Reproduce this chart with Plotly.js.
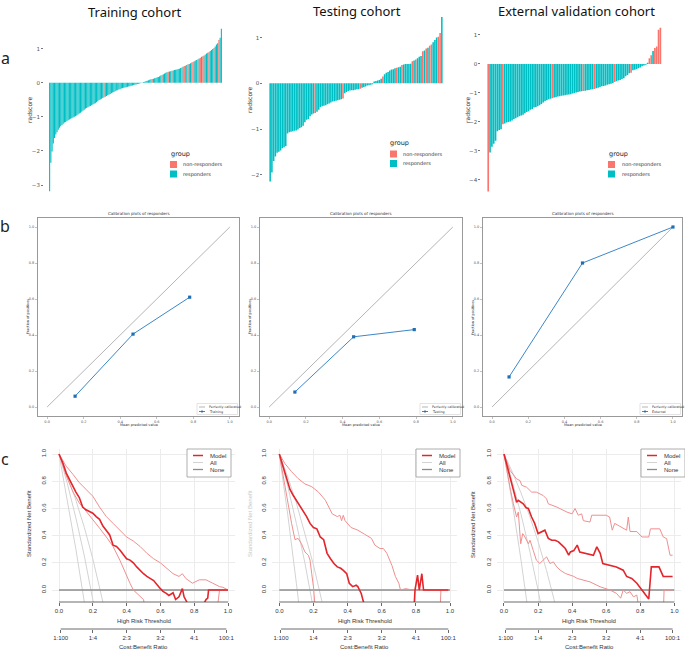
<!DOCTYPE html>
<html><head><meta charset="utf-8">
<script src="https://cdn.plot.ly/plotly-3.0.1.min.js"></script>
<style>html,body{margin:0;padding:0;background:#fff}#chart{width:685px;height:650px}</style>
</head><body><div id="chart"></div>
<script>
// ---------------- DATA ----------------
const cohortTitles = ['Training cohort', 'Testing cohort', 'External validation cohort'];
const cohortShort = ['Training', 'Testing', 'External'];
const groupLabels = ['non-responders', 'responders'];

const trainRadscore = [-3.18,-2.35,-2.02,-1.78,-1.62,-1.52,-1.45,-1.38,-1.32,-1.28,
 -1.24,-1.2,-1.17,-1.15,-1.12,-1.1,-1.08,-1.06,-1.04,-1.02,
 -1.0,-0.98,-0.96,-0.93,-0.9,-0.88,-0.85,-0.82,-0.79,-0.76,
 -0.74,-0.72,-0.7,-0.68,-0.66,-0.64,-0.62,-0.6,-0.57,-0.54,
 -0.51,-0.49,-0.47,-0.45,-0.43,-0.41,-0.39,-0.37,-0.35,-0.33,
 -0.31,-0.29,-0.27,-0.25,-0.23,-0.22,-0.2,-0.19,-0.17,-0.16,
 -0.15,-0.14,-0.13,-0.12,-0.11,-0.1,-0.09,-0.08,-0.07,-0.06,
 -0.05,-0.04,-0.03,-0.02,-0.01,0.01,0.02,0.03,0.05,0.06,
 0.07,0.09,0.1,0.11,0.12,0.13,0.14,0.16,0.17,0.19,
 0.21,0.23,0.25,0.27,0.29,0.31,0.32,0.33,0.34,0.35,
 0.36,0.37,0.38,0.39,0.4,0.41,0.43,0.45,0.47,0.49,
 0.5,0.52,0.54,0.55,0.57,0.59,0.61,0.63,0.65,0.67,
 0.69,0.71,0.73,0.76,0.78,0.8,0.83,0.86,0.88,0.9,
 0.93,0.96,0.99,1.02,1.06,1.12,1.16,1.25,1.32,1.58];
const trainNonResp = [44,55,83,91,96,99,107,109,110,112,115,116,118,120,122,124,126,129,133,137];

const testRadscore = [-2.15,-1.95,-1.7,-1.6,-1.52,-1.5,-1.47,-1.42,-1.4,-1.37,
 -1.1,-1.07,-1.06,-1.05,-1.04,-1.03,-1.01,-0.98,-0.96,-0.93,
 -0.85,-0.8,-0.78,-0.72,-0.68,-0.66,-0.65,-0.62,-0.58,-0.52,
 -0.5,-0.49,-0.48,-0.46,-0.44,-0.42,-0.4,-0.39,-0.38,-0.37,
 -0.36,-0.35,-0.33,-0.22,-0.19,-0.17,-0.16,-0.15,-0.15,-0.14,
 -0.13,-0.13,-0.12,-0.1,-0.08,-0.07,-0.05,-0.04,-0.03,-0.02,
 0.04,0.05,0.06,0.07,0.1,0.15,0.2,0.23,0.25,0.28,
 0.3,0.31,0.33,0.34,0.35,0.36,0.4,0.41,0.42,0.42,
 0.42,0.43,0.48,0.5,0.52,0.55,0.58,0.6,0.7,0.72,
 0.76,0.78,0.82,0.85,0.9,0.95,1.0,1.02,1.1,1.45];
const testNonResp = [26,42,52,65,73,76,82,84,88,90,92,93,97,98];

const extRadscore = [-4.4,-3.05,-2.85,-2.75,-2.65,-2.32,-2.28,-2.25,-2.08,-2.05,
 -2.02,-2.0,-1.98,-1.95,-1.9,-1.87,-1.84,-1.8,-1.78,-1.75,
 -1.7,-1.66,-1.63,-1.58,-1.55,-1.5,-1.48,-1.46,-1.42,-1.38,
 -1.33,-1.28,-1.25,-1.22,-1.2,-1.18,-1.16,-1.14,-1.12,-1.11,
 -1.1,-1.09,-1.08,-1.06,-1.05,-1.04,-1.02,-1.0,-0.98,-0.97,
 -0.95,-0.94,-0.93,-0.92,-0.91,-0.9,-0.88,-0.87,-0.86,-0.84,
 -0.82,-0.79,-0.77,-0.76,-0.74,-0.72,-0.7,-0.68,-0.66,-0.62,
 -0.6,-0.57,-0.55,-0.52,-0.49,-0.42,-0.38,-0.32,-0.3,-0.22,
 -0.2,-0.17,-0.15,-0.12,-0.08,-0.05,-0.03,0.04,0.2,0.3,
 0.45,0.55,0.6,1.18,1.25];
const extNonResp = [0,8,35,52,58,69,78,88,89,91,92,93,94];

// calibration
const calibTrainX = [0.153, 0.47, 0.78];
const calibTrainY = [0.06, 0.405, 0.61];
const calibTestX = [0.14, 0.46, 0.79];
const calibTestY = [0.083, 0.39, 0.43];
const calibExtX = [0.094, 0.50, 1.0];
const calibExtY = [0.167, 0.80, 1.0];
const diagX = [0, 1];
const diagY = [0, 1];
const calibTicks = [0, 0.2, 0.4, 0.6, 0.8, 1.0];

// decision curves
const dcaTrainModelX = [0,0.024,0.043,0.063,0.083,0.10,0.12,0.14,0.16,0.18,0.20,0.22,0.24,0.26,0.28,0.30,0.32,0.34,0.36,0.38,0.40,0.42,0.44,0.46,0.475,0.50,0.52,0.56,0.60,0.615,0.635,0.65,0.675,0.69,0.71,0.73,0.74,0.77,0.85,0.87,0.88,0.885,1.0];
const dcaTrainModelY = [1,0.93,0.86,0.81,0.77,0.72,0.68,0.61,0.59,0.58,0.565,0.54,0.52,0.47,0.44,0.405,0.33,0.32,0.295,0.26,0.23,0.22,0.2,0.17,0.15,0.12,0.1,0.07,0.01,-0.01,-0.025,-0.04,-0.02,-0.07,-0.05,0.01,-0.05,-0.12,-0.12,-0.07,-0.06,0,0];
const dcaTrainUpX = [0,0.043,0.083,0.12,0.16,0.2,0.24,0.28,0.32,0.36,0.4,0.44,0.48,0.52,0.56,0.6,0.635,0.675,0.71,0.73,0.75,0.79,0.83,0.87,0.91,0.95,0.97,1.0];
const dcaTrainUpY = [1,0.91,0.85,0.79,0.74,0.69,0.61,0.54,0.49,0.44,0.39,0.36,0.32,0.27,0.23,0.2,0.16,0.12,0.1,0.12,0.085,0.05,0.075,0.075,0.05,0.025,0.02,0];
const dcaTrainLoX = [0,0.024,0.043,0.083,0.12,0.16,0.2,0.24,0.28,0.32,0.36,0.4,0.42,0.44,0.46,0.475,0.5,0.52,0.93,0.95,1.0];
const dcaTrainLoY = [1,0.91,0.84,0.72,0.64,0.58,0.52,0.455,0.39,0.32,0.22,0.1,0.05,0,-0.025,-0.04,-0.07,-0.2,-0.2,0,0];
const dcaTrainAllX = [[0,0.05,0.1,0.15],[0,0.05,0.1,0.15,0.2,0.21],[0,0.05,0.1,0.15,0.2,0.25,0.26]];
const dcaTrainAllY = [[1,0.66,0.3,-0.09],[1,0.78,0.53,0.25,-0.07,-0.13],[1,0.84,0.66,0.46,0.23,-0.03,-0.09]];

const dcaTestModelX = [0,0.023,0.043,0.0625,0.082,0.1,0.12,0.14,0.16,0.18,0.2,0.22,0.24,0.26,0.28,0.3,0.32,0.34,0.36,0.375,0.395,0.41,0.43,0.45,0.46,0.48,0.5,0.79,0.795,0.81,0.82,0.835,0.845,0.99];
const dcaTestModelY = [1,0.9,0.83,0.74,0.695,0.66,0.62,0.585,0.54,0.49,0.46,0.45,0.39,0.37,0.27,0.23,0.195,0.17,0.16,0.145,0.12,0.05,0.025,0.035,0.025,-0.025,-0.12,-0.12,0,0.11,0,0.12,0,0];
const dcaTestUpX = [0,0.033,0.072,0.11,0.15,0.19,0.23,0.27,0.31,0.34,0.355,0.365,0.375,0.385,0.42,0.46,0.5,0.54,0.56,0.59,0.61,0.63,0.66,0.68,0.7,0.71,0.74,0.78,0.99];
const dcaTestUpY = [1,0.93,0.87,0.82,0.78,0.76,0.72,0.66,0.56,0.54,0.55,0.51,0.55,0.51,0.46,0.44,0.41,0.38,0.33,0.305,0.305,0.27,0.18,0.1,0.05,0,0.01,0,0];
const dcaTestLoX = [0,0.014,0.033,0.053,0.072,0.092,0.11,0.13,0.15,0.17,0.18,0.19,0.2,0.215,0.94,0.947,0.99];
const dcaTestLoY = [1,0.9,0.76,0.61,0.49,0.37,0.38,0.34,0.28,0.256,0.22,0.12,0.024,-0.2,-0.2,0,0];
const dcaTestAllX = [[0,0.05,0.1,0.12],[0,0.05,0.1,0.15,0.2],[0,0.05,0.1,0.15,0.2,0.25]];
const dcaTestAllY = [[1,0.55,0.05,-0.16],[1,0.76,0.49,0.2,-0.14],[1,0.83,0.64,0.42,0.185,-0.085]];

const dcaExtModelX = [0,0.025,0.045,0.065,0.074,0.084,0.098,0.113,0.13,0.143,0.162,0.18,0.2,0.22,0.24,0.26,0.28,0.3,0.32,0.34,0.36,0.38,0.39,0.41,0.43,0.445,0.485,0.525,0.545,0.565,0.58,0.62,0.66,0.7,0.72,0.75,0.78,0.81,0.83,0.85,0.865,0.91,0.935,0.99];
const dcaExtModelY = [1,0.88,0.78,0.695,0.646,0.66,0.646,0.634,0.605,0.6,0.537,0.49,0.415,0.43,0.44,0.38,0.366,0.366,0.354,0.33,0.305,0.256,0.28,0.29,0.33,0.28,0.27,0.256,0.317,0.27,0.195,0.183,0.17,0.146,0.1,0.085,0.05,0,-0.037,-0.066,0.17,0.17,0.1,0.1];
const dcaExtUpX = [0,0.035,0.074,0.094,0.104,0.133,0.162,0.19,0.23,0.25,0.26,0.31,0.37,0.4,0.417,0.436,0.456,0.466,0.505,0.515,0.6,0.62,0.636,0.65,0.72,0.73,0.74,0.78,0.81,0.85,0.86,0.915,0.935,0.955,0.975,0.99];
const dcaExtUpY = [1,0.88,0.817,0.805,0.77,0.756,0.72,0.72,0.695,0.67,0.634,0.61,0.573,0.56,0.6,0.55,0.56,0.51,0.5,0.55,0.55,0.537,0.44,0.49,0.44,0.537,0.43,0.43,0.39,0.39,0.45,0.45,0.39,0.378,0.256,0.256];
const dcaExtLoX = [0,0.016,0.035,0.055,0.074,0.084,0.098,0.11,0.123,0.143,0.153,0.172,0.19,0.21,0.23,0.25,0.27,0.29,0.31,0.33,0.36,0.41,0.43,0.466,0.505,0.564,0.622,0.66,0.685,0.7,0.72,0.74,0.76,0.78,0.8,0.935,0.94,0.99];
const dcaExtLoY = [1,0.88,0.756,0.634,0.537,0.573,0.34,0.415,0.39,0.34,0.366,0.29,0.22,0.195,0.22,0.244,0.195,0.207,0.17,0.146,0.122,0.1,0.085,0.073,0.06,0.024,0,-0.024,-0.06,0,-0.024,-0.012,-0.05,-0.037,-0.2,-0.2,0,0];
const dcaExtAllX = [[0,0.05,0.1,0.13,0.14],[0,0.05,0.1,0.15,0.2,0.22],[0,0.05,0.1,0.15,0.2,0.25,0.3]];
const dcaExtAllY = [[1,0.63,0.22,-0.046,-0.14],[1,0.79,0.556,0.294,0,-0.128],[1,0.865,0.714,0.546,0.357,0.143,-0.1]];

const noneX = [0, 1];
const noneY = [0, 0];
const thresholdTicks = [0, 0.2, 0.4, 0.6, 0.8, 1.0];
const costTickVals = [0.0099, 0.2, 0.4, 0.6, 0.8, 0.9901];
const costTickText = ['1:100', '1:4', '2:3', '3:2', '4:1', '100:1'];
const dcaLegend = ['Model', 'All', 'None'];

// ---------------- LAYOUT HELPERS ----------------
const W = 685, H = 650;
const px = x => x / W, py = y => 1 - y / H;
const traces = [], shapes = [], annotations = [];
const layout = {width: W, height: H, margin: {l:0, r:0, t:0, b:0}, autosize: false,
  paper_bgcolor: '#fff', plot_bgcolor: 'rgba(0,0,0,0)', showlegend: false, bargap: 0.1,
  font: {family: 'DejaVu Sans', color: '#222'}};

function txt(t, x, y, size, o) {
  o = o || {};
  annotations.push({text: t, x: px(x), y: py(y), xref: 'paper', yref: 'paper', showarrow: false,
    font: {size: size, color: o.color || '#222', family: o.family || 'DejaVu Sans'},
    xanchor: o.xanchor || 'center', yanchor: o.yanchor || 'middle', textangle: o.angle || 0});
}
function rectP(x0, y0, x1, y1, fill, lineColor, lw) {
  shapes.push({type: 'rect', xref: 'paper', yref: 'paper', x0: px(x0), x1: px(x1), y0: py(y1), y1: py(y0),
    fillcolor: fill, line: {color: lineColor || fill, width: lw === undefined ? 0 : lw}});
}
function lineP(x0, y0, x1, y1, color, width, dash) {
  shapes.push({type: 'line', xref: 'paper', yref: 'paper', x0: px(x0), x1: px(x1), y0: py(y0), y1: py(y1),
    line: {color: color, width: width, dash: dash || 'solid'}});
}

// panel letters
txt('a', 5, 58, 16, {family: 'Noto Sans'});
txt('b', 5, 226, 16, {family: 'Noto Sans'});
txt('c', 5, 459, 16, {family: 'Noto Sans'});

// ---------------- ROW A: waterfall ----------------
const RED = '#F8766D', TEAL = '#00BFC4';
const rowA = [
  {vals: trainRadscore, non: trainNonResp, l: 49, r: 222, pad: 5, top: 20, bot: 200, range: [-3.44, 1.84],
   title: [135, 1], ylab: [29, 110], leg: {gx: 169, gy: 154, kx: 170, ky1: 161, ky2: 170.5, tx: 181}},
  {vals: testRadscore, non: testNonResp, l: 269.3, r: 442.7, pad: 6, top: 8.8, bot: 189.8, range: [-2.33, 1.63],
   title: [357, 0.5], ylab: [249, 100], leg: {gx: 388, gy: 143, kx: 390, ky1: 150.5, ky2: 160, tx: 401}},
  {vals: extRadscore, non: extNonResp, l: 487.3, r: 661.3, pad: 6, top: 19.6, bot: 199.7, range: [-4.68, 1.53],
   title: [576, 0], ylab: [467, 110], leg: {gx: 607, gy: 154, kx: 608, ky1: 161, ky2: 170.5, tx: 620}}
];
rowA.forEach((c, k) => {
  const n = c.vals.length;
  const ppb = (c.r - c.l) / n, padBars = c.pad / ppb;
  const ax = k + 1, xs = ax === 1 ? '' : ax;
  traces.push({type: 'bar', x: c.vals.map((_, i) => i), y: c.vals, xaxis: 'x' + xs, yaxis: 'y' + xs,
    marker: {color: c.vals.map((_, i) => c.non.includes(i) ? RED : TEAL), line: {width: 0}},
    hoverinfo: 'skip'});
  layout['xaxis' + xs] = {domain: [px(c.l - c.pad), px(c.r + c.pad)], range: [-0.5 - padBars, n - 0.5 + padBars],
    anchor: 'y' + xs, showticklabels: false, ticks: '', showgrid: false, zeroline: false, showline: false, fixedrange: true};
  layout['yaxis' + xs] = {domain: [py(c.bot), py(c.top)], range: c.range, anchor: 'x' + xs, dtick: 1,
    ticks: 'outside', ticklen: 2, tickcolor: '#555', tickwidth: 0.8,
    tickfont: {size: 5.5, color: '#555', family: 'DejaVu Sans'}, showgrid: false, zeroline: false, showline: false};
  txt(cohortTitles[k], c.title[0], c.title[1], 13, {family: 'Noto Sans', color: '#111', yanchor: 'top'});
  txt('radscore', c.ylab[0], c.ylab[1], 6, {angle: -90, color: '#333'});
  const L = c.leg;
  txt('group', L.gx, L.gy, 6.5, {xanchor: 'left', color: '#222'});
  rectP(L.kx, L.ky1, L.kx + 7, L.ky1 + 7, RED);
  rectP(L.kx, L.ky2, L.kx + 7, L.ky2 + 7, TEAL);
  txt(groupLabels[0], L.tx, L.ky1 + 3.7, 5, {xanchor: 'left', color: '#333'});
  txt(groupLabels[1], L.tx, L.ky2 + 3.7, 5, {xanchor: 'left', color: '#333'});
});

// ---------------- ROW B: calibration ----------------
const BLUE = '#3d87c8';
const rowB = [
  {x: calibTrainX, y: calibTrainY, l: 38, r: 239},
  {x: calibTestX, y: calibTestY, l: 260, r: 462},
  {x: calibExtX, y: calibExtY, l: 483, r: 682}
];
const bTop = 218, bBot = 416;
rowB.forEach((c, k) => {
  const ax = k + 4;
  traces.push({type: 'scatter', mode: 'lines', x: diagX, y: diagY, xaxis: 'x' + ax, yaxis: 'y' + ax,
    line: {color: '#b5b5b5', width: 1}, hoverinfo: 'skip'});
  traces.push({type: 'scatter', mode: 'lines+markers', x: c.x, y: c.y, xaxis: 'x' + ax, yaxis: 'y' + ax,
    line: {color: BLUE, width: 1}, marker: {symbol: 'square', size: 3.2, color: '#1f6fb4'}, hoverinfo: 'skip'});
  const common = {range: [-0.05, 1.05], tickvals: calibTicks, tickformat: '.1f', ticks: 'outside', ticklen: 2,
    tickcolor: '#999', tickwidth: 0.6, tickfont: {size: 3.5, color: '#555', family: 'DejaVu Sans'},
    showline: true, mirror: true, linecolor: '#999', linewidth: 1, showgrid: false, zeroline: false};
  layout['xaxis' + ax] = Object.assign({domain: [px(c.l), px(c.r)], anchor: 'y' + ax}, common);
  layout['yaxis' + ax] = Object.assign({domain: [py(bBot), py(bTop)], anchor: 'x' + ax}, common);
  const cx = (c.l + c.r) / 2;
  txt('Calibration plots of responders', cx, 213.5, 4, {color: '#333'});
  txt('Mean predicted value', cx, 424.5, 3.5, {color: '#333'});
  txt('Fraction of positives', c.l - 10, (bTop + bBot) / 2, 3.5, {angle: -90, color: '#333'});
  // legend
  const lx = c.r - 42;
  rectP(lx, 403.5, c.r - 1.5, 414.5, '#fff', '#d0d0d0', 0.6);
  lineP(lx + 2, 407, lx + 8, 407, '#b5b5b5', 1);
  txt('Perfectly calibrated', lx + 10, 407, 3.3, {xanchor: 'left', color: '#333'});
  lineP(lx + 2, 411.5, lx + 8, 411.5, BLUE, 1);
  rectP(lx + 4.2, 410.4, lx + 5.8, 412.6, '#1f6fb4');
  txt(cohortShort[k], lx + 10, 411.5, 3.3, {xanchor: 'left', color: '#333'});
});

// ---------------- ROW C: decision curves ----------------
const MODEL = '#e3262b', MODEL_CI = '#f08f8f', ALL = '#d3d3d3', NONE = '#8c8c8c';
const rowC = [
  {m: [dcaTrainModelX, dcaTrainModelY], up: [dcaTrainUpX, dcaTrainUpY], lo: [dcaTrainLoX, dcaTrainLoY],
   allX: dcaTrainAllX, allY: dcaTrainAllY, x0: 59, x1: 228, legL: 187, ytx: 29},
  {m: [dcaTestModelX, dcaTestModelY], up: [dcaTestUpX, dcaTestUpY], lo: [dcaTestLoX, dcaTestLoY],
   allX: dcaTestAllX, allY: dcaTestAllY, x0: 279.3, x1: 450, legL: 416, ytx: 250},
  {m: [dcaExtModelX, dcaExtModelY], up: [dcaExtUpX, dcaExtUpY], lo: [dcaExtLoX, dcaExtLoY],
   allX: dcaExtAllX, allY: dcaExtAllY, x0: 504, x1: 674.3, legL: 641, ytx: 473}
];
const cTop = 449, cBot = 602;
const DCAF = 'Liberation Sans';
rowC.forEach((c, k) => {
  const ax = k + 7, ax2 = k + 10;
  const xa = 'x' + ax, ya = 'y' + ax;
  const span = c.x1 - c.x0;
  const dom = [px(c.x0 - 0.04 * span), px(c.x1 + 0.04 * span)];
  c.allX.forEach((xx, j) => traces.push({type: 'scatter', mode: 'lines', x: xx, y: c.allY[j], xaxis: xa, yaxis: ya,
    line: {color: ALL, width: 1}, hoverinfo: 'skip'}));
  traces.push({type: 'scatter', mode: 'lines', x: noneX, y: noneY, xaxis: xa, yaxis: ya,
    line: {color: NONE, width: 1.5}, hoverinfo: 'skip'});
  traces.push({type: 'scatter', mode: 'lines', x: c.up[0], y: c.up[1], xaxis: xa, yaxis: ya,
    line: {color: MODEL_CI, width: 1}, hoverinfo: 'skip'});
  traces.push({type: 'scatter', mode: 'lines', x: c.lo[0], y: c.lo[1], xaxis: xa, yaxis: ya,
    line: {color: MODEL_CI, width: 1}, hoverinfo: 'skip'});
  traces.push({type: 'scatter', mode: 'lines', x: c.m[0], y: c.m[1], xaxis: xa, yaxis: ya,
    line: {color: MODEL, width: 1.6}, hoverinfo: 'skip'});
  // dummy to create secondary cost:benefit axis
  traces.push({type: 'scatter', mode: 'markers', x: [0.5], y: [null], xaxis: 'x' + ax2, yaxis: ya,
    marker: {opacity: 0}, hoverinfo: 'skip'});
  layout['xaxis' + ax] = {domain: dom, range: [-0.04, 1.04], anchor: ya, tickvals: thresholdTicks, tickformat: '.1f',
    ticks: 'outside', ticklen: 3, tickcolor: '#444', tickwidth: 0.8,
    tickfont: {size: 6, color: '#333', family: DCAF}, showgrid: true, gridcolor: '#ececec', gridwidth: 1,
    zeroline: false, showline: false};
  layout['yaxis' + ax] = {domain: [py(cBot), py(cTop)], range: [-0.088, 1.037], anchor: xa, tickvals: thresholdTicks,
    tickformat: '.1f', tickangle: -90, ticks: '', ticklabelstandoff: 4,
    tickfont: {size: 6, color: '#333', family: DCAF}, showgrid: true, gridcolor: '#ececec', gridwidth: 1,
    zeroline: false, showline: false};
  layout['xaxis' + ax2] = {domain: dom, range: [-0.04, 1.04], anchor: 'free', overlaying: xa, position: py(629),
    side: 'bottom', tickvals: costTickVals, ticktext: costTickText, ticks: 'outside', ticklen: 3, tickcolor: '#444',
    tickwidth: 0.8, tickfont: {size: 6, color: '#333', family: DCAF}, showgrid: false, zeroline: false, showline: false};
  // axis lines (R style, first to last tick)
  shapes.push({type: 'line', xref: xa, yref: 'paper', x0: 0, x1: 1, y0: py(cBot), y1: py(cBot),
    line: {color: '#444', width: 0.8}});
  shapes.push({type: 'line', xref: xa, yref: 'paper', x0: costTickVals[0], x1: costTickVals[5], y0: py(629), y1: py(629),
    line: {color: '#444', width: 0.8}});
  const cx = (c.x0 + c.x1) / 2;
  txt('High Risk Threshold', cx, 620.5, 6, {family: DCAF, color: '#333'});
  txt('Cost:Benefit Ratio', cx, 647, 6, {family: DCAF, color: '#333'});
  txt('Standardized Net Benefit', c.ytx, 524, 6, {family: DCAF, angle: -90, color: k === 1 ? '#c8c8c8' : '#333'});
  // legend
  const L = c.legL;
  rectP(L, 449, L + 44, 477, '#fff', '#9a9a9a', 0.8);
  lineP(L + 6, 455.5, L + 16, 455.5, MODEL, 1.5);
  lineP(L + 6, 462.5, L + 16, 462.5, ALL, 1);
  lineP(L + 6, 469.5, L + 16, 469.5, NONE, 1.3);
  txt(dcaLegend[0], L + 21, 455.5, 6, {family: DCAF, xanchor: 'left', color: '#333'});
  txt(dcaLegend[1], L + 21, 462.5, 6, {family: DCAF, xanchor: 'left', color: '#333'});
  txt(dcaLegend[2], L + 21, 469.5, 6, {family: DCAF, xanchor: 'left', color: '#333'});
});

layout.shapes = shapes;
layout.annotations = annotations;
Plotly.newPlot('chart', traces, layout, {staticPlot: true, displayModeBar: false});
</script></body></html>
